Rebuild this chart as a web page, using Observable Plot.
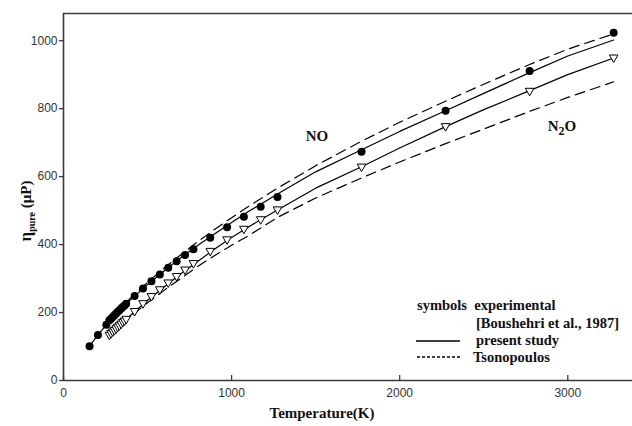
<!DOCTYPE html>
<html><head><meta charset="utf-8">
<script src="https://cdn.jsdelivr.net/npm/d3@7"></script>
<script src="https://cdn.jsdelivr.net/npm/@observablehq/plot@0.6"></script>
<style>body{margin:0;background:#fff} #chart{position:relative;width:632px;height:426px}</style>
</head><body><div id="chart"></div>
<script>
// Experimental (Boushehri et al., 1987)
const noExpT   = [155,205,255,273,283,293,303,313,323,333,343,353,363,373,423,473,523,573,623,673,723,773,873,973,1073,1173,1273,1773,2273,2773,3273];
const noExpEta = [101,134,164,177,182,187,192,197,202,207,212,216,221,226,249,271,292,312,332,351,369,386,420,451,482,511,540,673,794,911,1023];
const n2oExpT   = [273,283,293,303,313,323,333,343,353,363,373,423,473,523,573,623,673,723,773,873,973,1073,1173,1273,1773,2273,2773,3273];
const n2oExpEta = [133,138,143,147,152,157,161,166,171,175,180,203,226,247,267,287,306,325,344,380,414,445,473,502,628,747,851,949];
// Present study
const noPresT   = [155,205,255,300,400,500,600,700,800,900,1000,1100,1273,1500,1773,2000,2273,2500,2773,3000,3273];
const noPresEta = [101,134,164,190,238,282,323,362,398,432,465,497,549,614,679,733,794,845,906,955,1002];
const n2oPresT   = [273,300,400,500,600,700,800,900,1000,1100,1273,1500,1773,2000,2273,2500,2773,3000,3273];
const n2oPresEta = [133,146,192,236,276,315,351,387,421,452,502,566,629,684,747,797,853,900,949];
// Tsonopoulos
const noTsoT   = [250,300,400,500,600,700,800,900,1000,1100,1273,1500,1773,2000,2273,2500,2773,3000,3273];
const noTsoEta = [166,194,243,289,331,371,409,445,479,512,566,632,704,760,822,872,930,975,1020];
const n2oTsoT   = [273,300,400,500,600,700,800,900,1000,1100,1273,1500,1773,2000,2273,2500,2773,3000,3273];
const n2oTsoEta = [133,145,189,229,266,301,336,368,398,426,480,537,596,643,697,740,792,833,879];

const xTicks = [0,1000,2000,3000];
const yTicks = [0,200,400,600,800,1000];
const labels = [{name:"NO", T:1511, eta:719}, {name:"N2O", T:2968, eta:747}];

const zip = (T, E) => T.map((t,i)=>({T:t, eta:E[i]}));
const noExp = zip(noExpT, noExpEta), n2oExp = zip(n2oExpT, n2oExpEta);
const noPres = zip(noPresT, noPresEta), n2oPres = zip(n2oPresT, n2oPresEta);
const noTso = zip(noTsoT, noTsoEta), n2oTso = zip(n2oTsoT, n2oTsoEta);

const triDown = {draw(ctx, size){
  const r = Math.sqrt(size/Math.PI);
  ctx.moveTo(-r, -0.7*r); ctx.lineTo(r, -0.7*r); ctx.lineTo(0, 1.05*r); ctx.closePath();
}};

const serif = "'Liberation Serif','Times New Roman',serif";
const axisCol = "#3a3a3a";
const fmt = d3.format("d");

const plot = Plot.plot({
  width:632, height:426, marginLeft:63, marginRight:0, marginTop:13, marginBottom:46,
  x:{domain:[0,3385]}, y:{domain:[0,1080]},
  style:{fontFamily:"'Liberation Sans',Arial,sans-serif", fontSize:"12px", color:"#333", background:"white"},
  marks:[
    Plot.axisY(yTicks, {tickSize:4, tickPadding:2, label:null, tickFormat:fmt, stroke:axisCol, strokeWidth:1.3}),
    Plot.axisX(xTicks, {tickSize:0, tickPadding:8, label:null, tickFormat:fmt}),
    Plot.tickX(xTicks, {x:d=>d, insetTop:362, stroke:axisCol, strokeWidth:1.3}),
    Plot.ruleX([0], {stroke:axisCol, strokeWidth:1.6}),
    Plot.ruleY([0], {stroke:axisCol, strokeWidth:1.6}),
    Plot.ruleY([1080], {stroke:axisCol, strokeWidth:1.6}),
    Plot.line(noTso, {x:"T", y:"eta", stroke:"black", strokeWidth:1.2, strokeDasharray:"10,6"}),
    Plot.line(n2oTso, {x:"T", y:"eta", stroke:"black", strokeWidth:1.2, strokeDasharray:"10,6"}),
    Plot.line(noPres, {x:"T", y:"eta", stroke:"black", strokeWidth:1.2}),
    Plot.line(n2oPres, {x:"T", y:"eta", stroke:"black", strokeWidth:1.2}),
    Plot.dot(noExp, {x:"T", y:"eta", r:4, fill:"black", stroke:"none"}),
    Plot.dot(n2oExp, {x:"T", y:"eta", r:4.3, symbol:triDown, fill:"white", stroke:"black", strokeWidth:1})
  ]
});

const sx = plot.scale("x"), sy = plot.scale("y");
const svg = d3.select(plot);
const bold = (sel, size) => sel.attr("font-family", serif).attr("font-weight","bold").attr("font-size", size).attr("fill","#111");

// series labels
labels.forEach(l => {
  const t = bold(svg.append("text"), 15).attr("x", sx.apply(l.T)).attr("y", sy.apply(l.eta)).attr("text-anchor","middle").attr("dy","0.35em");
  if (l.name === "N2O") {
    t.append("tspan").text("N");
    t.append("tspan").attr("font-size",12).attr("dy","4").text("2");
    t.append("tspan").attr("dy","-4").text("O");
  } else t.text(l.name);
});

// axis titles
bold(svg.append("text"), 15).attr("x", 322).attr("y", 418).attr("text-anchor","middle").text("Temperature(K)");
const yt = bold(svg.append("text"), 15).attr("transform","translate(31,211) rotate(-90)").attr("text-anchor","middle");
yt.append("tspan").attr("font-size",17).text("η");
yt.append("tspan").attr("font-size",10).attr("dy","4").text("pure");
yt.append("tspan").attr("dy","-4").text(" (μP)");

// legend
const lg = svg.append("g").attr("text-anchor","start");
bold(lg.append("text"), 14.5).attr("x",417).attr("y",310).attr("xml:space","preserve").text("symbols  experimental");
bold(lg.append("text"), 14.5).attr("x",476).attr("y",328).text("[Boushehri et al., 1987]");
bold(lg.append("text"), 14.5).attr("x",476).attr("y",345).text("present study");
bold(lg.append("text"), 14.5).attr("x",473).attr("y",362).text("Tsonopoulos");
lg.append("line").attr("x1",416).attr("x2",460).attr("y1",341).attr("y2",341).attr("stroke","black").attr("stroke-width",1.5);
lg.append("line").attr("x1",417).attr("x2",460).attr("y1",357).attr("y2",357).attr("stroke","black").attr("stroke-width",1.5).attr("stroke-dasharray","3,2");

document.getElementById("chart").appendChild(plot);
</script>
</body></html>
